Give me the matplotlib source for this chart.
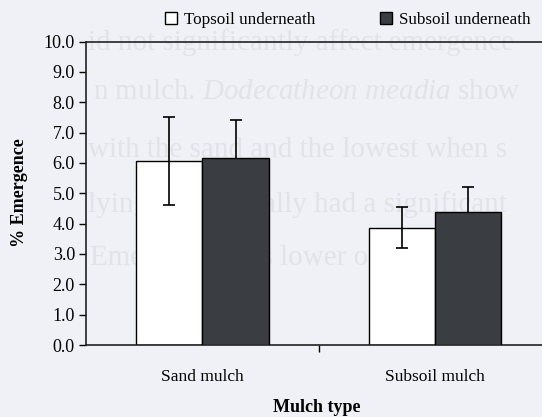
import matplotlib.pyplot as plt
import numpy as np

# % emergence by mulch type (mean +/- error)
categories = ['Sand mulch', 'Subsoil mulch']
series_names = ['Topsoil underneath', 'Subsoil underneath']
topsoil = [6.05, 3.87]
topsoil_err = [1.45, 0.67]
subsoil = [6.15, 4.39]
subsoil_err = [1.27, 0.82]

# faint page text showing through behind the chart
page_lines = [
    'id not significantly affect emergence',
    'n mulch. $\\it{Dodecatheon\\ meadia}$ show',
    'with the sand and the lowest when s',
    'lying soil typically had a significant',
    'Emergence was lower on subsoil',
]

plt.rcParams['font.family'] = ['Liberation Serif', 'DejaVu Serif']
plt.rcParams['mathtext.fontset'] = 'custom'
plt.rcParams['mathtext.it'] = 'Liberation Serif:italic'
plt.rcParams['mathtext.rm'] = 'Liberation Serif'

W, H = 542, 417
fig = plt.figure(figsize=(W / 100, H / 100), dpi=100)
fig.patch.set_facecolor('#eff1f6')

page_y = [43, 92, 150, 205, 258]
page_x = [88, 93, 88, 88, 90]
for txt, px, py in zip(page_lines, page_x, page_y):
    fig.text(px / W, 1 - py / H, txt, fontsize=21, color='#e1e3ea',
             ha='left', va='center', zorder=0)

left, bottom, top = 86, 345, 41.5
cat_px = 232.7
ax_w = W + 10 - left
ax = fig.add_axes([left / W, 1 - bottom / H, ax_w / W, (bottom - top) / H])
ax.set_facecolor('none')
ax.set_zorder(2)

x = np.arange(len(categories))
w = 66.4 / cat_px
ax.bar(x - w / 2, topsoil, w, color='white', edgecolor='black', linewidth=1, zorder=2)
ax.errorbar(x - w / 2, topsoil, yerr=topsoil_err, fmt='none', ecolor='black',
            elinewidth=1.2, capsize=4, capthick=1.2, zorder=3)
ax.errorbar(x + w / 2, subsoil, yerr=subsoil_err, fmt='none', ecolor='black',
            elinewidth=1.2, capsize=4, capthick=1.2, zorder=3)
ax.bar(x + w / 2, subsoil, w, color='#3a3d41', edgecolor='black', linewidth=1, zorder=4)

ax.set_xlim(-0.5, -0.5 + ax_w / cat_px)
ax.set_ylim(0, 10)
ax.set_yticks(np.arange(0, 10.1, 1))
ax.set_yticklabels(['%.1f' % v for v in np.arange(0, 10.1, 1)], fontsize=13)
ax.set_xticks(x)
ax.set_xticklabels(categories, fontsize=12.5)
ax.tick_params(axis='x', length=0, pad=17)
ax.set_xticks([0.5], minor=True)
ax.tick_params(axis='x', which='minor', length=5, direction='out', width=1)
ax.tick_params(axis='y', length=5, direction='out', width=1, pad=3)

for side in ['left', 'bottom', 'top']:
    ax.spines[side].set_linewidth(1.2)
    ax.spines[side].set_color('#222222')
ax.spines['right'].set_visible(False)

ax.set_ylabel('% Emergence', fontsize=13, fontweight='bold')
ax.yaxis.set_label_coords(-58 / ax_w, (bottom - 193) / (bottom - top), transform=ax.transAxes)
fig.text(317 / W, 1 - 408 / H, 'Mulch type', fontsize=13, fontweight='bold',
         ha='center', va='center')

handles = [plt.Rectangle((0, 0), 1, 1, facecolor='white', edgecolor='black'),
           plt.Rectangle((0, 0), 1, 1, facecolor='#3a3d41', edgecolor='black')]
leg = fig.legend(handles, series_names, loc='center', bbox_to_anchor=(348 / W, 1 - 20 / H),
                 ncol=2, frameon=False, fontsize=12.3, handlelength=0.7, handleheight=0.7,
                 handletextpad=0.4, columnspacing=3.8)
leg.set_zorder(3)

fig.savefig('out.png', dpi=100, facecolor=fig.get_facecolor())
